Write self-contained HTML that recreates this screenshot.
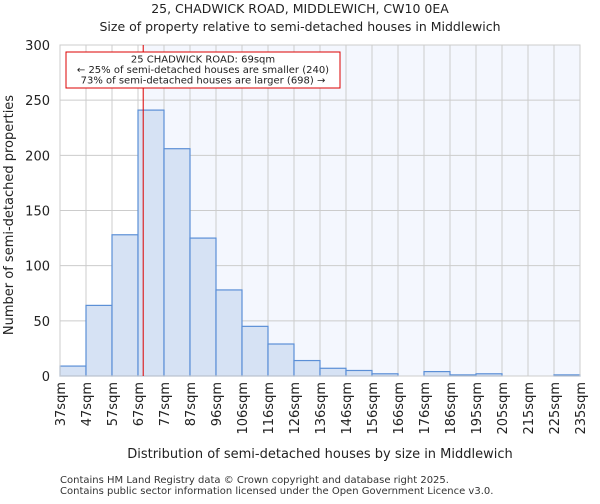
<!DOCTYPE html>
<html><head><meta charset="utf-8"><style>
body{margin:0;background:#fff;font-family:"DejaVu Sans","Liberation Sans",sans-serif}
</style></head><body>
<svg width="600" height="500" xmlns="http://www.w3.org/2000/svg" font-family="DejaVu Sans, Liberation Sans, sans-serif">
<text x="300" y="13" text-anchor="middle" font-size="12.5" fill="#222">25, CHADWICK ROAD, MIDDLEWICH, CW10 0EA</text>
<text x="300" y="31" text-anchor="middle" font-size="12.5" fill="#222">Size of property relative to semi-detached houses in Middlewich</text>
<g id="plot"></g>
<text x="320" y="458" text-anchor="middle" font-size="13" fill="#222">Distribution of semi-detached houses by size in Middlewich</text>
<text transform="translate(13,215) rotate(-90)" text-anchor="middle" font-size="13" fill="#222">Number of semi-detached properties</text>
<text x="60" y="483" font-size="10" fill="#333">Contains HM Land Registry data © Crown copyright and database right 2025.</text>
<text x="60" y="494" font-size="10" fill="#333">Contains public sector information licensed under the Open Government Licence v3.0.</text>
</svg>
<script>
const binLabels=["37sqm","47sqm","57sqm","67sqm","77sqm","87sqm","96sqm","106sqm","116sqm","126sqm","136sqm","146sqm","156sqm","166sqm","176sqm","186sqm","195sqm","205sqm","215sqm","225sqm","235sqm"];
const counts=[9,64,128,241,206,125,78,45,29,14,7,5,2,0,4,1,2,0,0,1];
const yTicks=[0,50,100,150,200,250,300];
const markerBin=3.2;
const NS="http://www.w3.org/2000/svg";
const L=60,R=580,T=45,B=376,yMax=300;
const bw=(R-L)/counts.length;
const xs=i=>L+i*bw;
const ys=v=>B-(v/yMax)*(B-T);
const g=document.getElementById('plot');
function mk(t,a){const e=document.createElementNS(NS,t);for(const k in a)e.setAttribute(k,a[k]);g.appendChild(e);return e;}
let bg=mk('rect',{x:L,y:T,width:R-L,height:B-T,fill:'#fff'});


let mx=xs(markerBin);
let sh=mk('rect',{x:mx,y:T,width:R-mx,height:B-T,fill:'#f4f7fe'});


yTicks.forEach(v=>{
 let l=mk('line',{x1:L,x2:R,y1:ys(v),y2:ys(v),stroke:'#ccc','stroke-width':1});
 
 
 let t=mk('text',{x:L-10,y:ys(v)+5,'text-anchor':'end','font-size':13,fill:'#222'});
 t.textContent=v;
 
 
});
binLabels.forEach((s,i)=>{
 let l=mk('line',{x1:xs(i),x2:xs(i),y1:T,y2:B,stroke:'#ccc','stroke-width':1});
 
 
 let t=mk('text',{transform:`translate(${xs(i)+5},${B+6}) rotate(-90)`,'text-anchor':'end','font-size':13,fill:'#222'});
 t.textContent=s;
 
 
});
counts.forEach((v,i)=>{
 if(v<=0)return;
 let r=mk('rect',{x:xs(i),y:ys(v),width:bw,height:B-ys(v),fill:'#d6e2f4',stroke:'#5b8fd6','stroke-width':1.2});
 
 
});
let ax=mk('rect',{x:L,y:T,width:R-L,height:B-T,fill:'none',stroke:'#ccc'});


let ml=mk('line',{x1:mx,x2:mx,y1:T,y2:B,stroke:'#dd0000','stroke-width':1});


let box=mk('rect',{x:66,y:52,width:274,height:36,fill:'#fff',stroke:'#dd0000','stroke-width':1});


["25 CHADWICK ROAD: 69sqm","← 25% of semi-detached houses are smaller (240)","73% of semi-detached houses are larger (698) →"].forEach((s,i)=>{
 let t=mk('text',{x:203,y:62.5+i*10.5,'text-anchor':'middle','font-size':10,fill:'#222'});
 t.textContent=s;
 
 
});
</script>
</body></html>
